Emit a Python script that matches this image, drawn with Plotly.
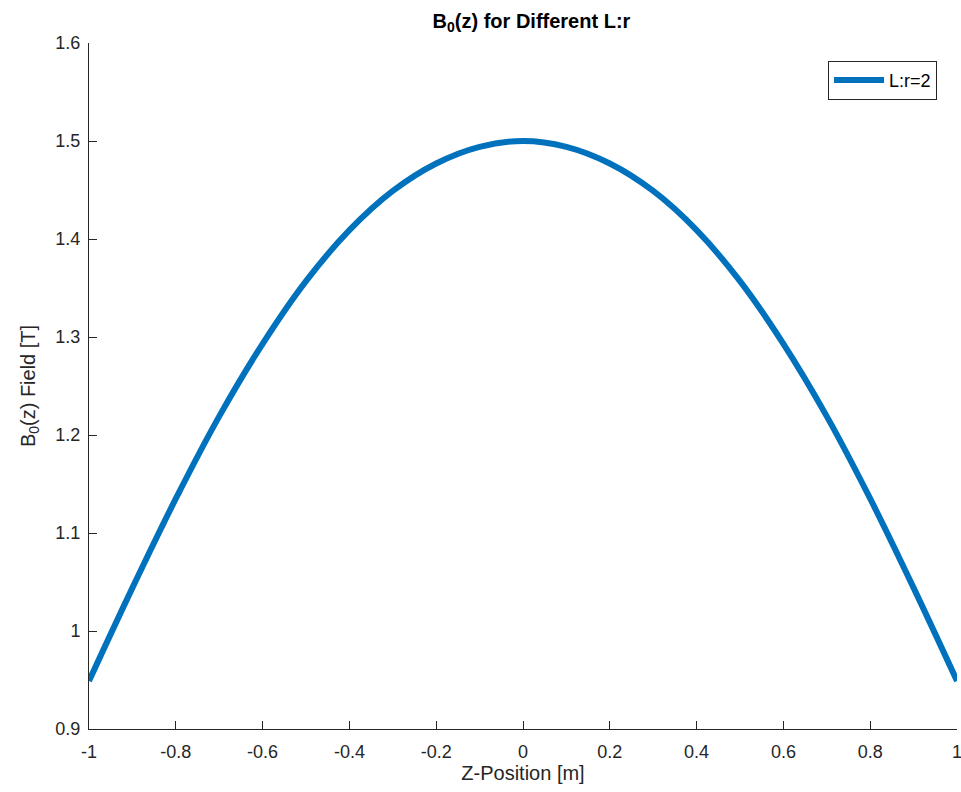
import plotly.graph_objects as go

z_pos = [-1.0, -0.9, -0.8, -0.7, -0.6, -0.5, -0.4, -0.3, -0.2, -0.1, 0.0,
         0.1, 0.2, 0.3, 0.4, 0.5, 0.6, 0.7, 0.8, 0.9, 1.0]
b0_field = [0.949, 1.044, 1.135, 1.219, 1.293, 1.357, 1.409, 1.449, 1.477, 1.494, 1.500,
            1.494, 1.477, 1.449, 1.409, 1.357, 1.293, 1.219, 1.135, 1.044, 0.949]
series_name = "L:r=2"
x_ticks = [-1, -0.8, -0.6, -0.4, -0.2, 0, 0.2, 0.4, 0.6, 0.8, 1]
y_ticks = [0.9, 1.0, 1.1, 1.2, 1.3, 1.4, 1.5, 1.6]

FONT = "Liberation Sans, Arial, Helvetica, sans-serif"
AX = "#262626"

fig = go.Figure()
fig.add_trace(go.Scatter(
    x=z_pos, y=b0_field, mode="lines", name=series_name,
    line=dict(color="#0072BD", width=6, shape="spline", smoothing=1.0),
))

fig.update_layout(
    width=961, height=792,
    margin=dict(l=89, r=4, t=43, b=63),
    paper_bgcolor="white", plot_bgcolor="white",
    font=dict(family=FONT, size=18, color=AX),
    title=dict(text="<b>B<sub>0</sub>(z) for Different L:r</b>", x=0.553, xanchor="center",
               y=0.974, yanchor="middle", font=dict(size=20, color="#000000")),
    showlegend=True,
    legend=dict(x=0.977, xanchor="right", y=0.974, yanchor="top",
                bordercolor=AX, borderwidth=1, bgcolor="white", itemwidth=50,
                font=dict(size=18, color="#000000")),
)
fig.update_xaxes(
    range=[-1, 1], tickvals=x_ticks, ticktext=[f"{v:g}" for v in x_ticks],
    showgrid=False, zeroline=False, showline=True, linecolor=AX, linewidth=1,
    ticks="inside", ticklen=8, tickcolor=AX, ticklabelstandoff=6,
    ticklabeloverflow="allow", automargin=False,
    title=dict(text="Z-Position [m]", font=dict(size=20, color=AX), standoff=4),
)
fig.update_yaxes(
    range=[0.9, 1.6], tickvals=y_ticks, ticktext=[f"{v:g}" for v in y_ticks],
    showgrid=False, zeroline=False, showline=True, linecolor=AX, linewidth=1,
    ticks="inside", ticklen=8, tickcolor=AX, ticklabelstandoff=4,
    ticklabeloverflow="allow", automargin=False,
    title=dict(text="B<sub>0</sub>(z) Field [T]", font=dict(size=20, color=AX), standoff=14),
)

fig.write_html("out.html")
